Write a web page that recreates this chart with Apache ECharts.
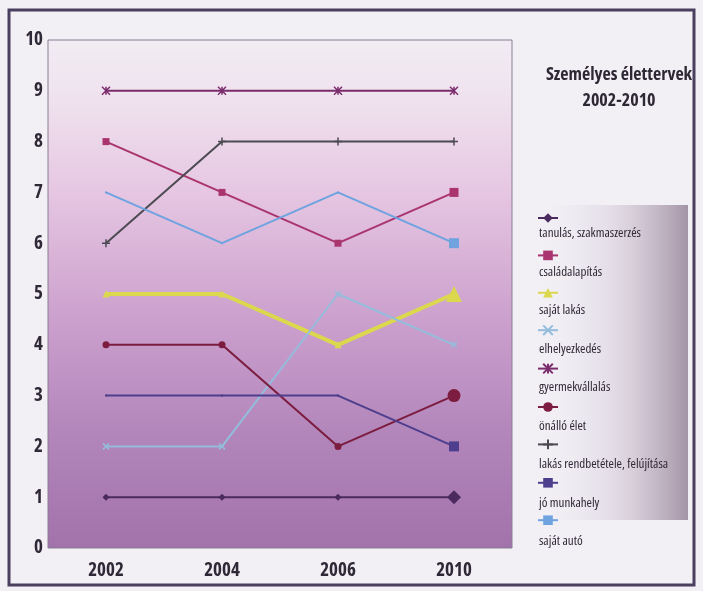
<!DOCTYPE html>
<html>
<head>
<meta charset="utf-8">
<script src="https://cdn.jsdelivr.net/npm/echarts@6/dist/echarts.min.js"></script>
<style>
html,body{margin:0;padding:0;background:#f2f0f5;}
#c{width:703px;height:591px;}
</style>
</head>
<body>
<div id="c"></div>
<script>
const years = ['2002', '2004', '2006', '2010'];
const seriesNames = ['tanulás, szakmaszerzés', 'családalapítás', 'saját lakás', 'elhelyezkedés', 'gyermekvállalás', 'önálló élet', 'lakás rendbetétele, felújítása', 'jó munkahely', 'saját autó'];
const tanulas = [1, 1, 1, 1];
const csaladalapitas = [8, 7, 6, 7];
const sajatLakas = [5, 5, 4, 5];
const elhelyezkedes = [2, 2, 5, 4];
const gyermekvallalas = [9, 9, 9, 9];
const onalloElet = [4, 4, 2, 3];
const lakasRendbetetele = [6, 8, 8, 8];
const joMunkahely = [3, 3, 3, 2];
const sajatAuto = [7, 6, 7, 6];
const titleLines = ['Személyes élettervek', '2002-2010'];

const values = [tanulas, csaladalapitas, sajatLakas, elhelyezkedes, gyermekvallalas, onalloElet, lakasRendbetetele, joMunkahely, sajatAuto];

const FONT = '"Open Sans"';
const STRETCH = 'condensed';
const X_PATH = 'path://M0,0L10,10M10,0L0,10';
const PLUS_PATH = 'path://M5,0L5,10M0,5L10,5';
const STAR_PATH = 'path://M0,0L10,10M10,0L0,10M5,0L5,10';

const styles = [
  {color: '#4b2b5f', symbol: 'diamond', size: 7, end: 14, width: 2},
  {color: '#a9346e', symbol: 'rect', size: 7, end: 9, width: 2},
  {color: '#dcd84e', symbol: 'triangle', size: 7, end: 16, width: 4},
  {color: '#94bddc', symbol: X_PATH, size: 6, end: 6, width: 2, stroke: true},
  {color: '#7b2d6d', symbol: STAR_PATH, size: 8, end: 8, width: 2, stroke: true},
  {color: '#7c1c3e', symbol: 'circle', size: 7, end: 13, width: 2},
  {color: '#4c4a52', symbol: PLUS_PATH, size: 8, end: 8, width: 2, stroke: true},
  {color: '#4e3e8e', symbol: 'rect', size: 2, end: 10, width: 2},
  {color: '#6ea3e0', symbol: 'rect', size: 2, end: 10, width: 2}
];

const series = seriesNames.map((name, i) => {
  const st = styles[i];
  return {
    name: name,
    type: 'line',
    data: values[i],
    symbol: st.symbol,
    symbolSize: (v, p) => (p.dataIndex === years.length - 1 ? st.end : st.size),
    showAllSymbol: true,
    lineStyle: {color: st.color, width: st.width},
    itemStyle: st.stroke ? {color: st.color, borderColor: st.color, borderWidth: 1.5} : {color: st.color, borderColor: st.color, borderWidth: 0},
    emphasis: {disabled: true},
    z: 3
  };
});

const chart = echarts.init(document.getElementById('c'), null, {renderer: 'canvas'});
chart.setOption({
  backgroundColor: '#f2f0f5',
  animation: false,
  title: {
    text: titleLines.join('\n'),
    left: 619,
    top: 62,
    padding: 0,
    textAlign: 'center',
    textStyle: {fontFamily: FONT, fontStyle: STRETCH, fontWeight: 'bold', fontSize: 18, lineHeight: 26, color: '#2e2834'}
  },
  grid: {
    left: 48, right: 191, top: 40, bottom: 43,
    show: true,
    borderColor: '#8a7c90',
    borderWidth: 1,
    backgroundColor: {
      type: 'linear', x: 0, y: 0, x2: 0, y2: 1,
      colorStops: [
        {offset: 0, color: '#f1ecf3'},
        {offset: 0.12, color: '#efe2ee'},
        {offset: 0.3, color: '#e6c6e2'},
        {offset: 0.55, color: '#cba0cd'},
        {offset: 0.8, color: '#b083b9'},
        {offset: 1, color: '#a273ab'}
      ]
    }
  },
  graphic: [
    {
      type: 'rect', z: -1, silent: true,
      shape: {x: 538, y: 205, width: 150, height: 315},
      style: {
        fill: {
          type: 'linear', x: 0, y: 0, x2: 1, y2: 0,
          colorStops: [
            {offset: 0, color: 'rgba(236,232,240,0)'},
            {offset: 0.5, color: 'rgba(214,204,218,0.55)'},
            {offset: 1, color: '#a494a6'}
          ]
        }
      }
    },
    {
      type: 'rect', z: 10, silent: true,
      shape: {x: 9, y: 10, width: 685, height: 575},
      style: {fill: 'none', stroke: '#4a3f5e', lineWidth: 3}
    }
  ],
  legend: [
    {
      data: seriesNames,
      orient: 'vertical',
      left: 537,
      top: 212,
      padding: 0,
      itemWidth: 20,
      itemHeight: 12,
      itemGap: 26.6,
      formatter: () => '',
      selectedMode: false,
      textStyle: {fontSize: 1}
    },
    {
      data: seriesNames,
      orient: 'vertical',
      left: 533,
      top: 226,
      padding: 0,
      icon: 'rect',
      itemWidth: 0,
      itemHeight: 0,
      itemGap: 23.5,
      selectedMode: false,
      itemStyle: {opacity: 0},
      lineStyle: {opacity: 0},
      textStyle: {fontFamily: FONT, fontStyle: STRETCH, fontSize: 13, lineHeight: 15, color: '#302836'}
    }
  ],
  xAxis: {
    type: 'category',
    data: years,
    boundaryGap: true,
    axisLine: {show: false},
    axisTick: {show: false},
    axisLabel: {margin: 13, fontFamily: FONT, fontStyle: STRETCH, fontWeight: 'bold', fontSize: 19, color: '#2f2836'},
    splitLine: {show: false}
  },
  yAxis: {
    type: 'value',
    min: 0, max: 10, interval: 1,
    axisLine: {show: false},
    axisTick: {show: false},
    axisLabel: {margin: 5, fontFamily: FONT, fontStyle: STRETCH, fontWeight: 'bold', fontSize: 19, color: '#2f2836'},
    splitLine: {show: false}
  },
  series: series
});
</script>
</body>
</html>
